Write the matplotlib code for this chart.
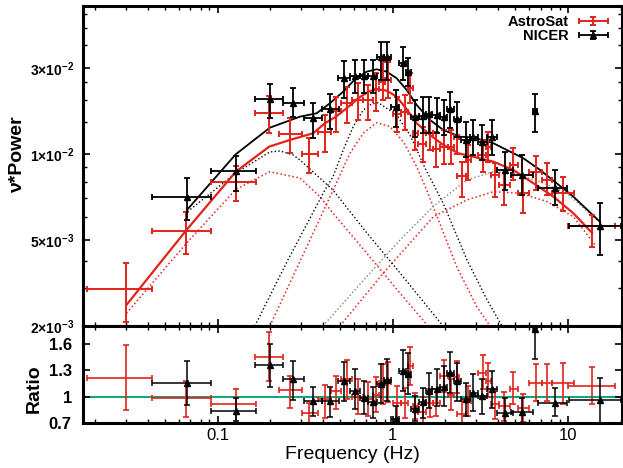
import numpy as np
import matplotlib
matplotlib.use("Agg")
import matplotlib.pyplot as plt
from matplotlib.ticker import FixedLocator, NullFormatter
from matplotlib.legend_handler import HandlerErrorbar

plt.rcParams['font.family'] = ['Liberation Sans', 'DejaVu Sans']
plt.rcParams['mathtext.fontset'] = 'custom'
plt.rcParams['mathtext.rm'] = 'Liberation Sans'
plt.rcParams['mathtext.bf'] = 'Liberation Sans:bold'

# ---- NICER data (freq, bin edges, nu*P and error limits, ratio)
nicer_f = [0.0674, 0.1272, 0.199, 0.2693, 0.3504, 0.441, 0.5268, 0.609, 0.688, 0.7687, 0.8572,
           0.9314, 1.040, 1.141, 1.228, 1.341, 1.490, 1.602, 1.784, 1.951, 2.126, 2.331, 2.606,
           2.888, 3.237, 3.679, 4.354, 5.445, 6.505, 8.46, 15.3]
nicer_flo = [0.0421, 0.0915, 0.1633, 0.236, 0.3112, 0.3945, 0.4868, 0.5702, 0.6503, 0.7271, 0.8131,
             0.892, 0.978, 1.086, 1.191, 1.272, 1.414, 1.55, 1.677, 1.863, 2.043, 2.226, 2.457,
             2.765, 3.052, 3.459, 3.923, 4.724, 6.33, 6.766, 10.17]
nicer_fhi = [0.0915, 0.1655, 0.236, 0.3112, 0.3945, 0.4933, 0.5702, 0.6503, 0.7271, 0.8131, 0.892,
             0.978, 1.086, 1.191, 1.272, 1.414, 1.55, 1.677, 1.863, 2.043, 2.226, 2.457, 2.765,
             3.052, 3.459, 3.920, 4.888, 6.31, 6.68, 9.91, 20.2]
nicer_p = [7.09e-3, 8.74e-3, 0.0201, 0.01926, 0.01584, 0.01766, 0.0264, 0.02692, 0.02692, 0.02692,
           0.03453, 0.03453, 0.01815, 0.03185, 0.02832, 0.01598, 0.01624, 0.01656, 0.01646, 0.01604,
           0.01777, 0.01563, 0.01203, 0.01243, 0.01166, 0.01235, 8.79e-3, 8.44e-3, 0.01732, 7.60e-3, 5.61e-3]
nicer_phi = [8.24e-3, 9.84e-3, 0.02445, 0.02323, 0.01919, 0.02152, 0.0328, 0.0332, 0.0332, 0.0332,
             0.04182, 0.04182, 0.02265, 0.03925, 0.0341, 0.01993, 0.0207, 0.0207, 0.02045, 0.01993,
             0.02208, 0.01943, 0.01505, 0.01544, 0.01448, 0.01544, 0.01026, 9.92e-3, 0.02152, 8.79e-3, 6.75e-3]
nicer_plo = [5.87e-3, 7.42e-3, 0.01584, 0.01604, 0.01227, 0.01376, 0.02045, 0.0218, 0.0218, 0.0218,
             0.02574, 0.02574, 0.01412, 0.02574, 0.02384, 0.01243, 0.01308, 0.01308, 0.01308, 0.01275,
             0.01394, 0.01243, 9.76e-3, 9.92e-3, 9.53e-3, 9.92e-3, 7.48e-3, 7.19e-3, 0.01329, 6.63e-3, 4.26e-3]
nicer_r = [1.157, 0.836, 1.354, 1.196, 0.95, 0.95, 1.176, 1.063, 0.987, 0.938, 1.139, 1.188, 0.749,
           1.29, 1.259, 0.862, 0.938, 1.063, 1.089, 1.112, 1.27, 1.176, 0.976, 1.044, 1.006, 1.089,
           0.817, 0.825, 1.769, 0.93, 0.961]
nicer_rhi = [1.403, 0.987, 1.592, 1.403, 1.112, 1.112, 1.392, 1.309, 1.176, 1.112, 1.366, 1.422, 0.893,
             1.528, 1.497, 1.006, 1.10, 1.27, 1.309, 1.346, 1.505, 1.384, 1.157, 1.252, 1.196, 1.29,
             0.987, 0.987, 2.0, 1.10, 1.214]
nicer_rlo = [0.904, 0.723, 1.108, 0.961, 0.779, 0.771, 0.95, 0.855, 0.799, 0.76, 0.93, 0.95, 0.6,
             1.063, 1.025, 0.723, 0.76, 0.874, 0.893, 0.893, 1.044, 0.95, 0.779, 0.836, 0.799, 0.874,
             0.69, 0.685, 1.422, 0.779, 0.685]

# ---- AstroSat data
astro_f = [0.0302, 0.0665, 0.1272, 0.1972, 0.2588, 0.3346, 0.4103, 0.4742, 0.546, 0.636, 0.7255,
           0.8027, 0.8768, 0.9438, 1.062, 1.176, 1.256, 1.341, 1.484, 1.634, 1.768, 1.964, 2.154,
           2.316, 2.48, 2.704, 3.267, 3.518, 3.843, 4.342, 4.888, 5.533, 6.592, 7.586, 9.44, 13.71]
astro_flo = [0.01798, 0.0421, 0.0915, 0.1633, 0.2241, 0.302, 0.3742, 0.4441, 0.5064, 0.5855, 0.6765,
             0.7717, 0.8406, 0.9096, 1.004, 1.115, 1.223, 1.306, 1.404, 1.56, 1.699, 1.863, 2.057,
             2.24, 2.322, 2.624, 3.072, 3.391, 3.645, 4.051, 4.65, 5.166, 6.01, 7.131, 8.135, 10.04]
astro_fhi = [0.04252, 0.0915, 0.1655, 0.236, 0.302, 0.3742, 0.4441, 0.5064, 0.5855, 0.6765, 0.7717,
             0.8406, 0.9096, 0.9843, 1.115, 1.223, 1.306, 1.404, 1.56, 1.699, 1.851, 2.057, 2.24,
             2.392, 2.624, 2.802, 3.391, 3.645, 4.051, 4.65, 5.166, 6.01, 7.131, 8.135, 10.87, 18.63]
astro_p = [2.957e-3, 5.375e-3, 8.0e-3, 0.01694, 0.01291, 9.96e-3, 0.01329, 0.01738, 0.01926, 0.01993,
           0.01993, 0.02285, 0.02518, 0.02574, 0.01667, 0.01717, 0.02314, 0.01303, 0.01136, 0.01313,
           0.01062, 0.01093, 0.01093, 0.01243, 8.37e-3, 9.53e-3, 9.92e-3, 0.01098, 8.44e-3, 7.79e-3,
           9.15e-3, 7.29e-3, 8.67e-3, 8.11e-3, 7.29e-3, 5.61e-3]
astro_phi = [3.915e-3, 6.27e-3, 9.10e-3, 0.02106, 0.01584, 0.01227, 0.01646, 0.02079, 0.02363, 0.02467,
             0.02414, 0.02814, 0.03252, 0.03252, 0.0207, 0.02125, 0.02814, 0.01624, 0.01412, 0.01646,
             0.01316, 0.01358, 0.01358, 0.01544, 9.40e-3, 0.01122, 0.01196, 0.01316, 9.30e-3, 8.79e-3,
             0.0108, 8.33e-3, 9.84e-3, 9.30e-3, 8.33e-3, 6.13e-3]
astro_plo = [2.095e-3, 4.31e-3, 6.86e-3, 0.01313, 0.01013, 8.58e-3, 0.0103, 0.01329, 0.0148, 0.01544,
             0.01544, 0.01738, 0.01993, 0.02037, 0.01316, 0.01358, 0.01919, 0.01052, 9.38e-3, 0.01052,
             9.01e-3, 9.22e-3, 9.22e-3, 0.01, 7.09e-3, 8.11e-3, 8.65e-3, 9.38e-3, 7.09e-3, 6.63e-3,
             8.11e-3, 6.23e-3, 7.48e-3, 7.19e-3, 6.31e-3, 4.66e-3]
astro_r = [1.214, 0.987, 0.912, 1.452, 1.071, 0.81, 0.969, 1.063, 1.2, 1.0, 0.97, 1.02, 1.15, 1.17,
           0.93, 0.93, 1.346, 0.89, 0.83, 0.93, 0.93, 1.23, 1.02, 1.22, 0.80, 0.95, 1.27, 1.18, 0.91,
           0.89, 1.09, 0.87, 1.157, 1.157, 1.15, 1.12]
astro_rhi = [1.585, 1.176, 1.082, 1.735, 1.233, 0.93, 1.127, 1.233, 1.42, 1.2, 1.17, 1.22, 1.37, 1.39,
             1.12, 1.1, 1.56, 1.04, 0.99, 1.09, 1.08, 1.42, 1.2, 1.4, 0.95, 1.12, 1.47, 1.38, 1.08,
             1.05, 1.28, 1.03, 1.37, 1.37, 1.38, 1.33]
astro_rlo = [0.844, 0.771, 0.70, 1.176, 0.873, 0.69, 0.76, 0.855, 0.97, 0.8, 0.78, 0.82, 0.92, 0.94,
             0.75, 0.76, 1.13, 0.74, 0.68, 0.77, 0.78, 1.05, 0.85, 1.04, 0.66, 0.78, 1.08, 0.99, 0.74,
             0.72, 0.91, 0.71, 0.95, 0.95, 0.92, 0.91]

# ---- model curves
nicer_tot_f = [0.0674, 0.1272, 0.199, 0.2954, 0.3679, 0.4382, 0.522, 0.609, 0.7101, 0.81, 0.9241,
               1.054, 1.202, 1.371, 1.634, 1.946, 2.424, 2.888, 3.757, 5.576, 6.946, 10.76, 15.3]
nicer_tot_p = [6.40e-3, 9.98e-3, 0.01399, 0.0161, 0.01681, 0.01911, 0.02216, 0.02597, 0.02861, 0.0295,
               0.02861, 0.0263, 0.02265, 0.0187, 0.01544, 0.01358, 0.01247, 0.01235, 0.01147, 9.66e-3,
               8.79e-3, 7.09e-3, 5.78e-3]
nicer_low_f = [0.0674, 0.1272, 0.199, 0.2276, 0.2704, 0.2954, 0.456, 0.7129, 1.101, 1.939]
nicer_low_p = [6.28e-3, 8.58e-3, 0.01026, 0.01039, 9.92e-3, 9.53e-3, 7.48e-3, 5.29e-3, 3.52e-3, 2.0e-3]
nicer_qpo_f = [0.1633, 0.2522, 0.4103, 0.456, 0.522, 0.5956, 0.6792, 0.7586, 0.8278, 1.054, 1.256,
               1.530, 1.939, 2.658, 3.459, 4.213]
nicer_qpo_p = [2.0e-3, 4.04e-3, 7.48e-3, 8.31e-3, 0.01052, 0.01418, 0.01754, 0.01894, 0.01926, 0.01646,
               0.01275, 8.93e-3, 6.74e-3, 4.04e-3, 2.64e-3, 2.0e-3]
nicer_hi_f = [0.3996, 0.7101, 1.101, 1.699, 2.647, 3.742, 4.868, 6.946, 9.87, 14.7]
nicer_hi_p = [2.0e-3, 3.38e-3, 5.0e-3, 6.54e-3, 8.11e-3, 8.67e-3, 8.58e-3, 8.0e-3, 7.29e-3, 5.87e-3]

astro_tot_f = [0.0302, 0.0665, 0.1272, 0.1972, 0.2588, 0.3517, 0.4103, 0.4742, 0.546, 0.636, 0.7255,
               0.81, 0.9241, 1.054, 1.202, 1.371, 1.634, 1.946, 2.371, 2.888, 3.757, 4.888, 6.36,
               8.27, 10.76, 13.77]
astro_tot_p = [2.502e-3, 5.42e-3, 8.67e-3, 0.01098, 0.01196, 0.01303, 0.0148, 0.0161, 0.01793, 0.02037,
               0.02216, 0.02286, 0.02245, 0.02079, 0.0177, 0.0148, 0.01275, 0.01122, 0.01009, 9.78e-3,
               9.40e-3, 8.79e-3, 7.90e-3, 7.09e-3, 6.20e-3, 5.29e-3]
astro_low_f = [0.0302, 0.0665, 0.1272, 0.199, 0.2704, 0.2954, 0.3842, 0.456, 0.7101, 1.101, 1.591]
astro_low_p = [2.29e-3, 4.83e-3, 7.52e-3, 8.67e-3, 8.33e-3, 8.24e-3, 7.09e-3, 6.21e-3, 4.35e-3, 2.84e-3, 2.0e-3]
astro_qpo_f = [0.199, 0.4576, 0.5702, 0.6792, 0.81, 0.9651, 1.150, 1.371, 1.564, 2.322, 3.02, 3.597]
astro_qpo_p = [2.0e-3, 7.48e-3, 0.01009, 0.01303, 0.01491, 0.01418, 0.0117, 9.03e-3, 7.48e-3, 3.76e-3,
               2.46e-3, 2.0e-3]
astro_hi_f = [0.5, 0.8837, 1.706, 2.647, 3.757, 5.34, 7.586, 10.76, 14.32]
astro_hi_p = [2.0e-3, 3.51e-3, 6.03e-3, 6.90e-3, 7.38e-3, 7.29e-3, 6.82e-3, 6.03e-3, 4.74e-3]

y_labels = [r'$\mathbf{2{\times}10^{-3}}$', r'$\mathbf{5{\times}10^{-3}}$',
            r'$\mathbf{1{\times}10^{-2}}$', r'$\mathbf{3{\times}10^{-2}}$']
y_ticks = [2e-3, 5e-3, 1e-2, 3e-2]
ratio_ticks = [0.7, 1.0, 1.3, 1.6]
ratio_labels = ['0.7', '1', '1.3', '1.6']

# the original axis spaces the labelled values evenly
LA = np.log10(y_ticks)

def fwd(v):
    lv = np.log10(np.clip(np.asarray(v, float), 1e-12, None))
    return np.where(lv < LA[1], (lv - LA[0]) / (LA[1] - LA[0]),
                    np.where(lv < LA[2], 1 + (lv - LA[1]) / (LA[2] - LA[1]),
                             2 + (lv - LA[2]) / (LA[3] - LA[2])))

def inv(u):
    u = np.asarray(u, float)
    lv = np.where(u < 1, LA[0] + u * (LA[1] - LA[0]),
                  np.where(u < 2, LA[1] + (u - 1) * (LA[2] - LA[1]),
                           LA[2] + (u - 2) * (LA[3] - LA[2])))
    return 10 ** lv

RED = '#e2231a'
GREEN = '#16a37e'

def xerrs(f, lo, hi):
    f = np.array(f)
    return [f - np.array(lo), np.array(hi) - f]

def yerrs(v, lo, hi):
    v = np.array(v)
    return [v - np.array(lo), np.array(hi) - v]

fig = plt.figure(figsize=(6.23, 4.68), dpi=100)
ax = fig.add_axes([0.1332, 0.3034, 0.8647, 0.6838])
axr = fig.add_axes([0.1332, 0.0962, 0.8647, 0.2072], sharex=ax)

ax.set_xscale('log')
ax.set_yscale('function', functions=(fwd, inv))

# model components
ax.plot(astro_low_f, astro_low_p, ':', color=RED, lw=1.1)
ax.plot(astro_qpo_f, astro_qpo_p, ':', color=RED, lw=1.1)
ax.plot(astro_hi_f, astro_hi_p, ':', color=RED, lw=1.1)
ax.plot(nicer_low_f, nicer_low_p, ':', color='black', lw=1.0)
ax.plot(nicer_qpo_f, nicer_qpo_p, ':', color='black', lw=1.0)
ax.plot(nicer_hi_f, nicer_hi_p, ':', color='#808080', lw=1.0)
ax.plot(astro_tot_f, astro_tot_p, '-', color=RED, lw=1.6)
ax.plot(nicer_tot_f, nicer_tot_p, '-', color='black', lw=1.3)

ea = ax.errorbar(astro_f, astro_p, xerr=xerrs(astro_f, astro_flo, astro_fhi),
                 yerr=yerrs(astro_p, astro_plo, astro_phi), fmt='none', ecolor=RED,
                 elinewidth=1.4, capsize=2.5, capthick=1.4, label='AstroSat')
en = ax.errorbar(nicer_f, nicer_p, xerr=xerrs(nicer_f, nicer_flo, nicer_fhi),
                 yerr=yerrs(nicer_p, nicer_plo, nicer_phi), fmt='^', color='black', ms=4,
                 elinewidth=1.3, capsize=2.5, capthick=1.3, label='NICER')

ax.set_xlim(0.01706, 20.3)
ax.set_ylim(2e-3, 0.0662)
ax.set_yticks(y_ticks)
ax.set_yticklabels(y_labels, fontsize=10)
ax.yaxis.set_minor_locator(FixedLocator([3e-3, 4e-3, 6e-3, 7e-3, 8e-3, 9e-3, 1.5e-2, 2e-2, 2.5e-2,
                                         4e-2, 5e-2, 6e-2]))
ax.yaxis.set_minor_formatter(NullFormatter())
ax.set_ylabel('ν*Power', fontsize=14, fontweight='bold')
ax.yaxis.set_label_coords(-0.106, 0.534)
ax.tick_params(labelbottom=False)

leg = ax.legend(handles=[ea, en], loc='upper right', frameon=False, markerfirst=False,
                fontsize=10.5, handlelength=2.0, labelspacing=0.0, borderaxespad=0.0,
                handletextpad=0.7, bbox_to_anchor=(0.985, 0.99),
                handler_map={type(ea): HandlerErrorbar(xerr_size=1.0, yerr_size=0.25)})
for t in leg.get_texts():
    t.set_fontweight('bold')

# ratio panel
axr.axhline(1.0, color=GREEN, lw=1.5, zorder=1)
axr.errorbar(astro_f, astro_r, xerr=xerrs(astro_f, astro_flo, astro_fhi),
             yerr=yerrs(astro_r, astro_rlo, astro_rhi), fmt='none', ecolor=RED,
             elinewidth=1.2, capsize=2.5, capthick=1.2)
axr.errorbar(nicer_f, nicer_r, xerr=xerrs(nicer_f, nicer_flo, nicer_fhi),
             yerr=yerrs(nicer_r, nicer_rlo, nicer_rhi), fmt='^', color='black', ms=4,
             elinewidth=1.1, capsize=2.5, capthick=1.1)
axr.set_ylim(0.7, 1.8)
axr.set_yticks(ratio_ticks)
axr.set_yticklabels(ratio_labels, fontsize=12, fontweight='bold')
axr.set_ylabel('Ratio', fontsize=14, fontweight='bold')
axr.yaxis.set_label_coords(-0.074, 0.35)
axr.set_xlabel('Frequency (Hz)', fontsize=14, labelpad=2)
axr.set_xticks([0.1, 1, 10])
axr.set_xticklabels(['0.1', '1', '10'], fontsize=12)

for a in (ax, axr):
    for s in a.spines.values():
        s.set_linewidth(2.2)
    a.tick_params(which='both', direction='in', top=True, right=True)
    a.tick_params(which='major', length=5, width=1.2)
    a.tick_params(which='minor', length=3, width=1.0)
ax.tick_params(axis='y', which='major', pad=6)
axr.tick_params(axis='y', which='major', pad=8)

fig.savefig('out.png', dpi=100)
